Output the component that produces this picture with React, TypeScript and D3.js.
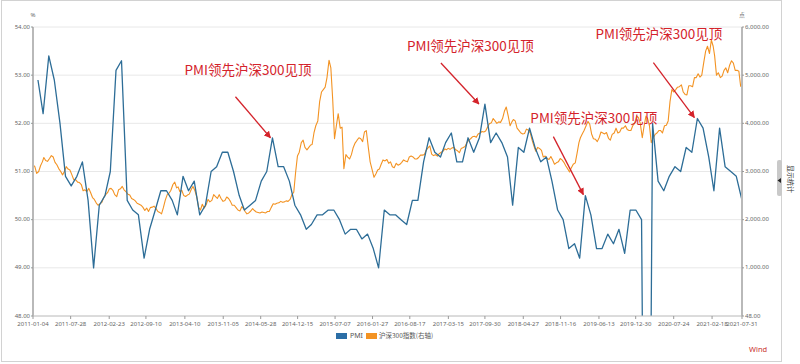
import React from "react";
import * as d3 from "d3";

const W = 800;
const H = 364;
const plot = { left: 33, right: 742, top: 27, bottom: 316 };

// x axis labels (trading-day ticks of the original chart)
const xTickLabels = [
  "2011-01-04", "2011-07-28", "2012-02-23", "2012-09-10", "2013-04-10",
  "2013-11-05", "2014-05-28", "2014-12-15", "2015-07-07", "2016-01-27",
  "2016-08-17", "2017-03-15", "2017-09-30", "2018-04-27", "2018-11-16",
  "2019-06-13", "2019-12-30", "2020-07-24", "2021-02-18", "2021-07-31",
];
const leftTicks = [48, 49, 50, 51, 52, 53, 54];
const rightTicks = [0, 1000, 2000, 3000, 4000, 5000, 6000];
const rightTickLabels = ["48.00", "1,000.00", "2,000.00", "3,000.00", "4,000.00", "5,000.00", "6,000.00"];

// PMI, monthly, 2011-01 .. 2021-07
const pmiValues = [
  52.9, 52.2, 53.4, 52.9, 52.0, 50.9, 50.7, 50.9, 51.2, 50.4, 49.0, 50.3,
  50.5, 51.0, 53.1, 53.3, 50.4, 50.2, 50.1, 49.2, 49.8, 50.2, 50.6, 50.6,
  50.4, 50.1, 50.9, 50.6, 50.8, 50.1, 50.3, 51.0, 51.1, 51.4, 51.4, 51.0,
  50.5, 50.2, 50.3, 50.4, 50.8, 51.0, 51.7, 51.1, 51.1, 50.8, 50.3, 50.1,
  49.8, 49.9, 50.1, 50.1, 50.2, 50.2, 50.0, 49.7, 49.8, 49.8, 49.6, 49.7,
  49.4, 49.0, 50.2, 50.1, 50.1, 50.0, 49.9, 50.4, 50.4, 51.2, 51.7, 51.4,
  51.3, 51.6, 51.8, 51.2, 51.2, 51.7, 51.4, 51.7, 52.4, 51.6, 51.8, 51.6,
  51.3, 50.3, 51.5, 51.4, 51.9, 51.5, 51.2, 51.3, 50.8, 50.2, 50.0, 49.4,
  49.5, 49.2, 50.5, 50.1, 49.4, 49.4, 49.7, 49.5, 49.8, 49.3, 50.2, 50.2,
  50.0, 35.7, 52.0, 50.8, 50.6, 50.9, 51.1, 51.0, 51.5, 51.4, 52.1, 51.9,
  51.3, 50.6, 51.9, 51.1, 51.0, 50.9, 50.4,
];

// 沪深300, three readings a month (4th, 14th, 24th), 2011-01 .. 2021-07
const csiValues = [
  // 2011
  3140, 3100, 2960, 3000, 3120, 3200, 3290, 3230, 3210, 3270, 3330, 3300,
  3190, 3140, 3060, 3000, 2930, 3000, 3100, 3050, 3030, 2930, 2830, 2830,
  2780, 2770, 2730, 2600, 2620, 2580, 2650, 2560, 2460, 2420, 2350, 2300,
  // 2012
  2330, 2360, 2460, 2520, 2560, 2640, 2650, 2610, 2520, 2480, 2620, 2640,
  2690, 2620, 2580, 2530, 2510, 2440, 2420, 2390, 2340, 2320, 2300, 2260,
  2190, 2240, 2170, 2250, 2260, 2280, 2230, 2170, 2150, 2120, 2250, 2400,
  // 2013
  2520, 2550, 2610, 2730, 2780, 2660, 2680, 2580, 2610, 2500, 2480, 2510,
  2530, 2620, 2690, 2600, 2470, 2250, 2200, 2320, 2240, 2310, 2420, 2370,
  2400, 2520, 2480, 2440, 2520, 2440, 2380, 2400, 2470, 2440, 2380, 2300,
  // 2014
  2300, 2250, 2200, 2180, 2270, 2230, 2170, 2120, 2140, 2180, 2230, 2190,
  2160, 2150, 2140, 2160, 2150, 2140, 2170, 2170, 2250, 2330, 2320, 2340,
  2350, 2380, 2360, 2370, 2390, 2380, 2420, 2520, 2570, 2980, 3320, 3400,
  // 2015
  3600, 3650, 3500, 3450, 3500, 3550, 3560, 3800, 3950, 4050, 4450, 4650,
  4700, 4750, 4950, 5310, 5150, 4500, 3680, 3950, 4200, 3900, 3920, 3060,
  3350, 3300, 3260, 3350, 3500, 3590, 3650, 3700, 3680, 3620, 3820, 3850,
  // 2016
  3500, 3200, 3050, 2880, 2950, 3030, 3050, 3150, 3240, 3220, 3250, 3170,
  3200, 3100, 3080, 3170, 3130, 3150, 3190, 3240, 3220, 3200, 3300, 3320,
  3300, 3260, 3260, 3290, 3340, 3340, 3350, 3440, 3490, 3530, 3360, 3330,
  // 2017
  3350, 3320, 3370, 3400, 3420, 3470, 3450, 3480, 3460, 3490, 3500, 3450,
  3430, 3390, 3480, 3500, 3520, 3600, 3650, 3680, 3720, 3730, 3710, 3780,
  3800, 3830, 3820, 3840, 3920, 3990, 4010, 4100, 4050, 4000, 4030, 4020,
  // 2018
  4100, 4250, 4340, 4150, 3950, 4030, 4080, 4050, 3900, 3850, 3800, 3780,
  3790, 3880, 3860, 3800, 3650, 3530, 3420, 3500, 3480, 3440, 3300, 3320,
  3270, 3250, 3310, 3240, 3150, 3180, 3200, 3270, 3240, 3190, 3120, 3060,
  // 2019
  2990, 3080, 3150, 3180, 3380, 3600, 3700, 3780, 3850, 3950, 4040, 3980,
  3780, 3680, 3670, 3620, 3700, 3820, 3800, 3780, 3810, 3690, 3650, 3770,
  3800, 3900, 3800, 3820, 3900, 3900, 3950, 3870, 3850, 3850, 3950, 4000,
  // 2020
  4150, 4120, 4000, 3700, 3950, 4150, 4100, 3950, 3600, 3700, 3770, 3800,
  3850, 3850, 3800, 3950, 3960, 4050, 4450, 4700, 4650, 4700, 4750, 4760,
  4800, 4650, 4600, 4590, 4780, 4780, 4760, 4950, 4950, 5030, 4960, 5000,
  // 2021
  5270, 5500, 5600, 5450, 5730, 5600, 5400, 5000, 5050, 4950, 4980, 5100,
  5150, 5050, 5200, 5300, 5250, 5100, 5100, 5080, 4760,
];

// PMI peaks that the arrows point at
const annotations = [
  { date: "2014-07-31", value: 51.7, text: "PMI领先沪深300见顶", tx: -88, ty: -66, sx: -37, sy: -41, ex: -2, ey: 0 },
  { date: "2017-09-30", value: 52.4, text: "PMI领先沪深300见顶", tx: -78, ty: -57, sx: -44, sy: -41, ex: -6, ey: 0 },
  { date: "2019-03-31", value: 50.5, text: "PMI领先沪深300见顶", tx: -55, ty: -76, sx: -32, sy: -59, ex: -2, ey: -1 },
  { date: "2020-11-30", value: 52.1, text: "PMI领先沪深300见顶", tx: -102, ty: -83, sx: -44, sy: -56, ex: -3, ey: -1 },
];

const parse = d3.timeParse("%Y-%m-%d");
const pmiDates = pmiValues.map((_, i) => new Date(2011, i + 1, 0));
const csiDates = csiValues.map((_, i) => new Date(2011, Math.floor(i / 3), [4, 14, 24][i % 3]));

const BLUE = "#2d6d97";
const ORANGE = "#f39323";
const RED = "#d4232b";
const AXIS_FONT = "'Noto Sans', sans-serif";
const CJK_FONT = "'Noto Sans CJK SC', 'Noto Sans', sans-serif";

const App = () => {
  const x = d3
    .scaleTime()
    .domain([parse("2011-01-04") as Date, parse("2021-07-31") as Date])
    .range([plot.left, plot.right]);
  const yL = d3.scaleLinear().domain([48, 54]).range([plot.bottom, plot.top]);
  const yR = d3.scaleLinear().domain([0, 6000]).range([plot.bottom, plot.top]);

  const pmiLine = d3
    .line<number>()
    .x((_, i) => x(pmiDates[i]))
    .y((d) => yL(d));
  const csiLine = d3
    .line<number>()
    .x((_, i) => x(csiDates[i]))
    .y((d) => yR(d));

  return (
    <svg width={W} height={H} style={{ position: "absolute", left: 0, top: 0, background: "#fff" }}>
      <defs>
        <clipPath id="plotClip">
          <rect x={plot.left} y={plot.top} width={plot.right - plot.left} height={plot.bottom - plot.top} />
        </clipPath>
        <marker id="arrowHead" viewBox="0 0 10 10" refX="9" refY="5" markerWidth="7" markerHeight="7" orient="auto" markerUnits="userSpaceOnUse">
          <path d="M0,0 L10,5 L0,10 z" fill={RED} />
        </marker>
      </defs>

      {/* frame */}
      <rect x={1.5} y={0.5} width={780} height={361} fill="none" stroke="#d2d2d2" />
      <rect x={777} y={160} width={5} height={36} rx={2} fill="#c9c9c9" />
      <path d="M781,178 L777.5,180.5 L781,183 z" fill="#222" />
      <text x={788} y={165} fontSize={7} fontFamily={CJK_FONT} fill="#333" transform="rotate(90 788 165)">
        显示统计
      </text>

      {/* grid */}
      {leftTicks.map((t) => (
        <line key={"g" + t} x1={plot.left} x2={plot.right} y1={yL(t)} y2={yL(t)} stroke="#e8e8e8" strokeWidth={1} />
      ))}

      {/* series */}
      <g clipPath="url(#plotClip)">
        <path d={csiLine(csiValues) || ""} fill="none" stroke={ORANGE} strokeWidth={1.1} strokeLinejoin="round" />
        <path d={pmiLine(pmiValues) || ""} fill="none" stroke={BLUE} strokeWidth={1.3} strokeLinejoin="round" />
      </g>

      {/* axes */}
      <line x1={plot.left} x2={plot.right} y1={plot.bottom} y2={plot.bottom} stroke="#c4c4c4" strokeWidth={1.2} />
      <line x1={plot.left} x2={plot.left} y1={plot.top} y2={plot.bottom} stroke="#b9b9b9" strokeWidth={2} />
      <line x1={plot.right} x2={plot.right} y1={plot.top} y2={plot.bottom} stroke="#b9b9b9" strokeWidth={2} />

      {leftTicks.map((t) => (
        <g key={"l" + t}>
          <line x1={plot.left - 2} x2={plot.left} y1={yL(t)} y2={yL(t)} stroke="#999" />
          <text x={plot.left - 3} y={yL(t)} fontSize={6} fontFamily={AXIS_FONT} fill="#666" textAnchor="end" dominantBaseline="middle">
            {t.toFixed(2)}
          </text>
        </g>
      ))}
      {rightTicks.map((t, i) => (
        <g key={"r" + t}>
          <line x1={plot.right} x2={plot.right + 2} y1={yR(t)} y2={yR(t)} stroke="#999" />
          <text x={plot.right + 3} y={yR(t)} fontSize={6} fontFamily={AXIS_FONT} fill="#666" dominantBaseline="middle">
            {rightTickLabels[i]}
          </text>
        </g>
      ))}
      {xTickLabels.map((s) => {
        const px = x(parse(s) as Date);
        return (
          <g key={s}>
            <line x1={px} x2={px} y1={plot.bottom} y2={plot.bottom + 3} stroke="#999" />
            <text x={px} y={plot.bottom + 8} fontSize={6} fontFamily={AXIS_FONT} fill="#666" textAnchor="middle" dominantBaseline="middle">
              {s}
            </text>
          </g>
        );
      })}
      <text x={plot.left} y={17} fontSize={6} fontFamily={AXIS_FONT} fill="#666" textAnchor="middle">
        %
      </text>
      <text x={plot.right} y={17} fontSize={5.5} fontFamily={CJK_FONT} fill="#666" textAnchor="middle">
        点
      </text>

      {/* annotations */}
      {annotations.map((a, i) => {
        const px = x(parse(a.date) as Date);
        const py = yL(a.value);
        return (
          <g key={"a" + i}>
            <line x1={px + a.sx} y1={py + a.sy} x2={px + a.ex} y2={py + a.ey} stroke={RED} strokeWidth={1.3} markerEnd="url(#arrowHead)" />
            <text x={px + a.tx} y={py + a.ty} fontSize={13.5} fontFamily={CJK_FONT} fill={RED} dominantBaseline="middle">
              {a.text}
            </text>
          </g>
        );
      })}

      {/* legend */}
      <rect x={336} y={333} width={11} height={6} fill="#2b6ea6" />
      <text x={350} y={336.5} fontSize={7} fontFamily={AXIS_FONT} fill="#555" dominantBaseline="middle">
        PMI
      </text>
      <rect x={366} y={333} width={11} height={6} fill={ORANGE} />
      <text x={379} y={336.5} fontSize={6.5} fontFamily={CJK_FONT} fill="#555" dominantBaseline="middle">
        沪深300指数(右轴)
      </text>

      <text x={749} y={352} fontSize={7.5} fontFamily={AXIS_FONT} fill="#c9302c">
        Wind
      </text>
    </svg>
  );
};

export default App;
